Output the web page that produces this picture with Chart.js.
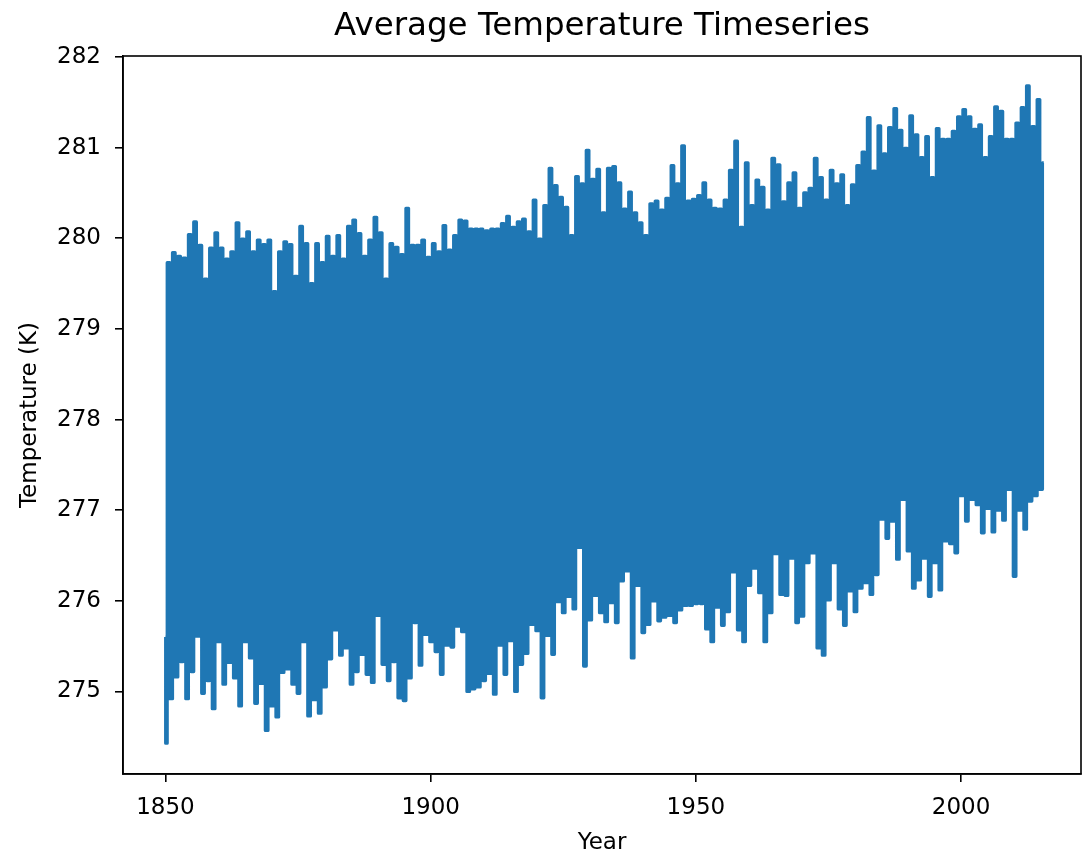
<!DOCTYPE html>
<html lang="en">
<head>
<meta charset="UTF-8">
<title>Average Temperature Timeseries</title>
<script src="https://cdn.jsdelivr.net/npm/chart.js"></script>
<style>
  body { margin: 0; background: #fff; }
  canvas { display: block; }
</style>
</head>
<body>
<canvas id="tempChart" width="1083" height="859"></canvas>
<script>
  // yearly extremes (K), one value per year from 1850
  const firstYear = 1850;
  const startValue = 275.6; // first month, before the 1850 winter low
  const winterLows = [
    274.43, 274.92, 275.16, 275.33, 274.92, 275.22, 275.61, 274.98, 275.12, 274.81,
    275.55, 275.08, 275.32, 275.15, 274.84, 275.55, 275.37, 274.87, 275.09, 274.57,
    274.84, 274.72, 275.21, 275.25, 275.08, 274.98, 275.55, 274.73, 274.91, 274.76,
    275.05, 275.36,
    275.68, 275.40, 275.48, 275.08, 275.22, 275.41, 275.19, 275.10, 275.84, 275.30,
    275.12, 275.33, 274.93, 274.90, 275.15, 275.76, 275.29, 275.63, 275.55, 275.44,
    275.19, 275.51, 275.49, 275.72, 275.66, 275.00, 275.03, 275.05, 275.12, 275.20,
    274.97, 275.51, 275.19,
    275.56, 275.00, 275.30, 275.42, 275.74, 275.67, 274.93, 275.62, 275.41, 275.99,
    275.87, 276.05, 275.91, 276.59, 275.28, 275.79, 276.06, 275.87, 275.77, 275.98,
    275.76, 276.22, 276.33, 275.37, 276.17, 275.65, 275.74, 276.00, 275.78, 275.82,
    275.84, 275.76, 275.90,
    275.95, 275.95, 275.97, 275.97, 275.69, 275.55, 275.93, 275.73, 275.88, 276.32,
    275.68, 275.55, 276.17, 276.36, 276.09, 275.55, 275.87, 276.52, 276.07, 276.06,
    276.47, 275.76, 275.83, 276.42, 276.53, 275.48, 275.40, 276.01, 276.42, 275.91,
    275.73, 276.11, 275.88,
    276.14, 276.20, 276.07, 276.29, 276.90, 276.69, 276.88, 276.46, 277.12, 276.55,
    276.14, 276.23, 276.47, 276.05, 276.42, 276.12, 276.66, 276.63, 276.53, 277.16,
    276.88, 277.12, 277.06, 276.75, 277.02, 276.76, 277.00, 276.89, 277.23, 276.27,
    277.00, 276.79, 277.10, 277.16, 277.23
  ];
  const summerPeaks = [
    279.73, 279.84, 279.80, 279.78, 280.04, 280.18, 279.92, 279.55, 279.89, 280.06,
    279.89, 279.77, 279.85, 280.17, 279.99, 280.07, 279.85, 279.98, 279.93, 279.98,
    279.41, 279.85, 279.96, 279.93, 279.58, 280.13, 279.94, 279.50, 279.94, 279.73,
    280.02, 279.80,
    280.03, 279.77, 280.13, 280.20, 280.05, 279.80, 279.98, 280.23, 280.06, 279.55,
    279.94, 279.90, 279.82, 280.33, 279.92, 279.92, 279.98, 279.79, 279.94, 279.85,
    280.14, 279.87, 280.03, 280.20, 280.19, 280.10, 280.10, 280.10, 280.08, 280.10,
    280.10, 280.16, 280.24,
    280.12, 280.18, 280.21, 280.07, 280.42, 279.99, 280.36, 280.77, 280.58, 280.45,
    280.34, 280.03, 280.68, 280.60, 280.97, 280.65, 280.76, 280.28, 280.77, 280.79,
    280.61, 280.32, 280.51, 280.28, 280.17, 280.03, 280.38, 280.41, 280.31, 280.44,
    280.80, 280.60, 281.02,
    280.41, 280.43, 280.47, 280.61, 280.42, 280.33, 280.32, 280.42, 280.75, 281.07,
    280.12, 280.83, 280.36, 280.64, 280.56, 280.31, 280.88, 280.81, 280.40, 280.61,
    280.72, 280.33, 280.50, 280.55, 280.88, 280.67, 280.42, 280.75, 280.60, 280.70,
    280.36, 280.59, 280.80,
    280.95, 281.33, 280.74, 281.24, 280.93, 281.22, 281.43, 281.19, 280.99, 281.35,
    281.14, 280.89, 281.12, 280.67, 281.21, 281.09, 281.09, 281.18, 281.34, 281.42,
    281.34, 281.20, 281.25, 280.89, 281.12, 281.45, 281.40, 281.09, 281.09, 281.27,
    281.44, 281.68, 281.23, 281.53, 280.83
  ];
  const xTicks = [1850, 1900, 1950, 2000];
  const yTicks = [275, 276, 277, 278, 279, 280, 281, 282];

  // monthly series thinned to Jan low and Jul high of each year
  const points = [{ x: firstYear, y: startValue }];
  winterLows.forEach((low, i) => {
    const yr = firstYear + i;
    points.push({ x: yr + 1 / 12, y: low });
    points.push({ x: yr + 7 / 12, y: summerPeaks[i] });
  });

  Chart.defaults.font.family = "'DejaVu Sans', sans-serif";
  Chart.defaults.color = '#000';

  // matplotlib-style box round the axes
  const frame = {
    id: 'frame',
    afterDraw(chart) {
      const { ctx, chartArea: a } = chart;
      ctx.save();
      ctx.strokeStyle = '#000';
      ctx.lineWidth = 1.6;
      ctx.strokeRect(a.left, a.top, a.right - a.left, a.bottom - a.top);
      ctx.restore();
    }
  };

  const ctx = document.getElementById('tempChart').getContext('2d');
  new Chart(ctx, {
    type: 'line',
    data: {
      datasets: [{
        data: points,
        borderColor: '#1f77b4',
        borderWidth: 3.2,
        borderJoinStyle: 'round',
        stepped: 'middle', // flat summer/winter plateaus like the monthly trace
        pointRadius: 0,
        fill: false
      }]
    },
    options: {
      responsive: false,
      animation: false,
      layout: { padding: { right: 2 } },
      plugins: {
        legend: { display: false },
        tooltip: { enabled: false },
        title: {
          display: true,
          fullSize: false,
          text: 'Average Temperature Timeseries',
          font: { size: 32.5, weight: 'normal' },
          color: '#000',
          padding: { top: 7, bottom: 10 }
        }
      },
      scales: {
        x: {
          type: 'linear',
          min: 1842,
          max: 2022.6,
          afterBuildTicks: s => { s.ticks = xTicks.map(v => ({ value: v })); },
          afterFit: s => { s.height = 85; },
          ticks: { font: { size: 23 }, padding: 12, maxRotation: 0, callback: v => String(v) },
          grid: { drawOnChartArea: false, tickLength: 8, color: '#000', lineWidth: 1.6 },
          border: { display: true, color: '#000', width: 1.6 },
          title: { display: true, text: 'Year', font: { size: 23 }, padding: { top: 2, bottom: 2 } }
        },
        y: {
          min: 274.09,
          max: 282.01,
          afterBuildTicks: s => { s.ticks = yTicks.map(v => ({ value: v })); },
          afterFit: s => { s.width = 123; },
          ticks: { font: { size: 23 }, padding: 14, callback: v => String(v) },
          grid: { drawOnChartArea: false, tickLength: 8, color: '#000', lineWidth: 1.6 },
          border: { display: true, color: '#000', width: 1.6 },
          title: { display: true, text: 'Temperature (K)', font: { size: 23 }, padding: { top: 16, bottom: 0 } }
        }
      }
    },
    plugins: [frame]
  });
</script>
</body>
</html>
